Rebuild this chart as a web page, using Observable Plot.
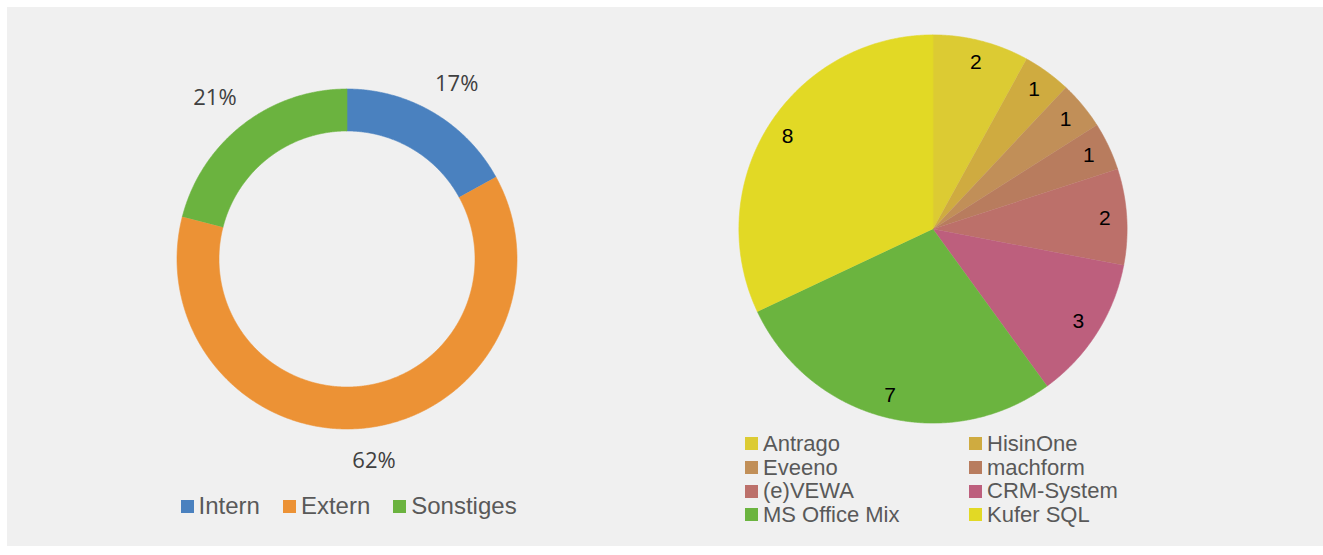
<!DOCTYPE html>
<html><head><meta charset="utf-8">
<script src="https://cdn.jsdelivr.net/npm/d3@7"></script>
<script src="https://cdn.jsdelivr.net/npm/@observablehq/plot@0.6"></script>
<style>
body{margin:0;background:#fff;width:1323px;height:555px;overflow:hidden;position:relative;font-family:"Liberation Sans",Arial,sans-serif}
#panel{position:absolute;left:7px;top:7px;width:1316px;height:539px;background:#f0f0f0}
.plot{position:absolute}
.leg{position:absolute;color:#595959;white-space:nowrap}
.leg .it{display:flex;align-items:center}
.sw{display:inline-block;width:13px;height:13px;margin-right:5px;flex:none}
#legL{left:180.5px;top:491px;display:flex;gap:23px;font-size:24px;line-height:30px}
#legR{left:745px;top:432px;display:grid;grid-template-columns:224px 224px;font-size:22px;line-height:23.7px}
</style></head><body>
<div id="panel"></div>
<div id="left" class="plot"></div>
<div id="right" class="plot"></div>
<div id="legL" class="leg"></div>
<div id="legR" class="leg"></div>
<script>
// ---- data ----
const donutCategories = ["Intern", "Extern", "Sonstiges"];
const donutValues = [17, 62, 21];
const donutLabels = ["17%", "62%", "21%"];
const donutColors = ["#4a81bf", "#ec9235", "#6bb33f"];

const pieCategories = ["Antrago", "HisinOne", "Eveeno", "machform", "(e)VEWA", "CRM-System", "MS Office Mix", "Kufer SQL"];
const pieValues = [2, 1, 1, 1, 2, 3, 7, 8];
const pieLabels = ["2", "1", "1", "1", "2", "3", "7", "8"];
const pieColors = ["#dccb33", "#cfab40", "#c18f58", "#b87c5e", "#bc706a", "#bd5f7d", "#6bb43f", "#e2d925"];

// ---- geometry helpers (angles clockwise from 12 o'clock, unit radius) ----
function slices(cats, vals, labels, inner, labelR, boxW, boxH) {
  const arcs = d3.pie().sort(null).value(d => d)(vals);
  const pts = [], labs = [];
  arcs.forEach((a, i) => {
    const n = Math.max(2, Math.ceil((a.endAngle - a.startAngle) / 0.005));
    for (let k = 0; k <= n; k++) {
      const t = a.startAngle + (a.endAngle - a.startAngle) * k / n;
      pts.push({cat: cats[i], x: Math.sin(t), y: Math.cos(t)});
    }
    if (inner > 0) {
      for (let k = n; k >= 0; k--) {
        const t = a.startAngle + (a.endAngle - a.startAngle) * k / n;
        pts.push({cat: cats[i], x: inner * Math.sin(t), y: inner * Math.cos(t)});
      }
    } else {
      pts.push({cat: cats[i], x: 0, y: 0});
    }
    const m = (a.startAngle + a.endAngle) / 2;
    labs.push({
      text: labels[i],
      x: labelR * Math.sin(m) + boxW * Math.sin(m),
      y: labelR * Math.cos(m) + boxH * Math.cos(m)
    });
  });
  return {pts, labs};
}

function pieChart(el, cats, vals, labels, colors, opts) {
  const {inner, labelR, boxW, boxH, k, unit, cx, cy, font, size, color} = opts;
  const px = Math.round(2 * k * unit);
  const {pts, labs} = slices(cats, vals, labels, inner, labelR, boxW / unit, boxH / unit);
  const chart = Plot.plot({
    width: px, height: px, margin: 0,
    x: {domain: [-k, k], axis: null},
    y: {domain: [-k, k], axis: null},
    color: {domain: cats, range: colors},
    style: {background: "transparent", overflow: "visible"},
    marks: [
      Plot.line(pts, {x: "x", y: "y", z: "cat", fill: "cat", stroke: "cat", strokeWidth: 0.6, curve: "linear"}),
      Plot.text(labs, {x: "x", y: "y", text: "text", fontSize: size, fontFamily: font, fill: color})
    ]
  });
  const box = document.getElementById(el);
  box.style.left = (cx - px / 2) + "px";
  box.style.top = (cy - px / 2) + "px";
  box.appendChild(chart);
}

pieChart("left", donutCategories, donutValues, donutLabels, donutColors,
  {inner: 0.753, labelR: 1.15, boxW: 20, boxH: 8, k: 1.35, unit: 170, cx: 346, cy: 258, font: "'Open Sans', sans-serif", size: 22, color: "#404040"});
pieChart("right", pieCategories, pieValues, pieLabels, pieColors,
  {inner: 0, labelR: 0.887, boxW: 0, boxH: 0, k: 1.1, unit: 194, cx: 932, cy: 228, font: "'Liberation Sans', Arial, sans-serif", size: 21, color: "#000"});

function legend(id, cats, colors) {
  const el = document.getElementById(id);
  cats.forEach((c, i) => {
    const it = document.createElement("div");
    it.className = "it";
    const sw = document.createElement("span");
    sw.className = "sw";
    sw.style.background = colors[i];
    it.appendChild(sw);
    it.appendChild(document.createTextNode(c));
    el.appendChild(it);
  });
}
legend("legL", donutCategories, donutColors);
legend("legR", pieCategories, pieColors);
</script>
</body></html>
